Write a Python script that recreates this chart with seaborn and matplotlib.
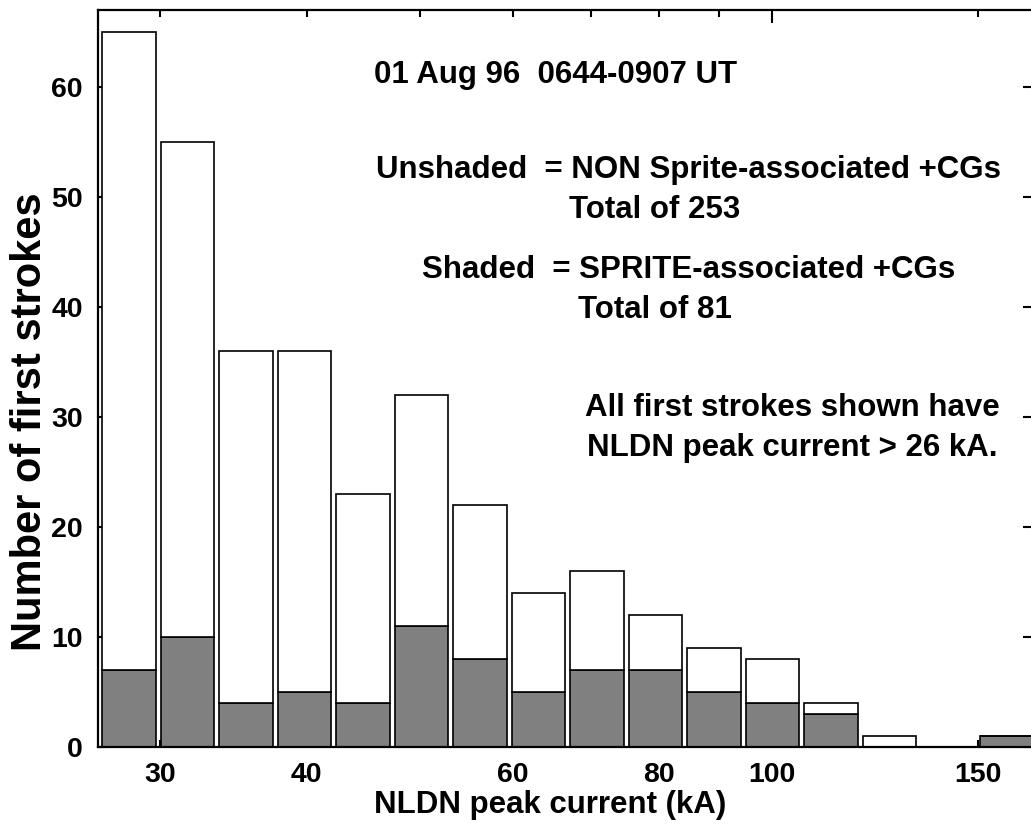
import numpy as np
import pandas as pd
import matplotlib
matplotlib.use("Agg")
import matplotlib.pyplot as plt
from matplotlib.ticker import FixedLocator, FixedFormatter
import seaborn as sns

# ---- data ----
bin_centers_kA = [28.2, 31.6, 35.5, 39.8, 44.7, 50.1, 56.2, 63.1,
                  70.8, 79.4, 89.1, 100.0, 112.2, 125.9, 141.3, 158.5]
unshaded_counts = [58, 45, 32, 31, 19, 21, 14, 9, 9, 5, 4, 4, 1, 1, 0, 0]
shaded_counts = [7, 10, 4, 5, 4, 11, 8, 5, 7, 7, 5, 4, 3, 0, 0, 1]
group_labels = ["Unshaded", "Shaded"]
xtick_values = [30, 40, 50, 60, 70, 80, 90, 150]
xtick_labels = ["30", "40", "", "60", "", "80", "", "150"]
ytick_values = [0, 10, 20, 30, 40, 50, 60]

df = pd.DataFrame({
    "kA": bin_centers_kA * 2,
    "count": unshaded_counts + shaded_counts,
    "group": [group_labels[0]] * len(bin_centers_kA) + [group_labels[1]] * len(bin_centers_kA),
})

sns.set_theme(style="ticks")
plt.rcParams["font.family"] = ["Liberation Sans", "DejaVu Sans"]
plt.rcParams["font.weight"] = "bold"

W, H = 1031, 827
fig = plt.figure(figsize=(W / 100, H / 100), dpi=100)
ax = fig.add_axes([98 / W, 80 / H, (1033 - 98) / W, (747 - 10) / H])

sns.histplot(
    data=df, x="kA", weights="count", hue="group", hue_order=group_labels,
    multiple="stack", log_scale=True, binwidth=0.05, binrange=(1.425, 2.225),
    shrink=0.915, palette={"Unshaded": "white", "Shaded": "#808080"},
    edgecolor="black", linewidth=1.2, alpha=1, legend=False, ax=ax,
)

ax.set_xlim(10 ** 1.4237, 10 ** 2.2229)
ax.set_ylim(0, 67)

ax.xaxis.set_major_locator(FixedLocator([100]))
ax.xaxis.set_major_formatter(FixedFormatter(["100"]))
ax.xaxis.set_minor_locator(FixedLocator(xtick_values))
ax.xaxis.set_minor_formatter(FixedFormatter(xtick_labels))
ax.set_yticks(ytick_values)
ax.set_yticklabels([str(v) for v in ytick_values])

ax.tick_params(axis="both", which="both", direction="in", top=True, right=True,
               width=1.5, color="black", labelsize=20.5, labelcolor="black")
ax.tick_params(axis="x", which="both", pad=10.5)
ax.tick_params(axis="y", which="both", pad=11)
ax.tick_params(axis="x", which="major", length=9)
ax.tick_params(axis="x", which="minor", length=5)
ax.tick_params(axis="y", which="major", length=7)
for lab in ax.get_xticklabels(which="both") + ax.get_yticklabels():
    lab.set_fontweight("bold")

for sp in ax.spines.values():
    sp.set_visible(True)
    sp.set_linewidth(1.6)
    sp.set_color("black")

ax.set_xlabel("NLDN peak current (kA)", fontsize=22.5, fontweight="bold", color="black")
ax.set_ylabel("Number of first strokes", fontsize=30, fontweight="bold", color="black")
ax.xaxis.set_label_coords((550 - 98) / 935, (747 - 790) / 737)
ax.yaxis.set_label_coords((50 - 98) / 935, (747 - 422) / 737)

def ftext(x, y, s, ha="center"):
    fig.text(x / W, 1 - y / H, s, ha=ha, va="center", fontsize=22.5,
             fontweight="bold", color="black")

ftext(556, 75, "01 Aug 96  0644-0907 UT")
ftext(689, 170, "Unshaded  = NON Sprite-associated +CGs")
ftext(655, 210, "Total of 253")
ftext(689, 270, "Shaded  = SPRITE-associated +CGs")
ftext(655, 310, "Total of 81")
ftext(792, 408, "All first strokes shown have")
ftext(792, 448, "NLDN peak current > 26 kA.")

fig.savefig("out.png", dpi=100)
